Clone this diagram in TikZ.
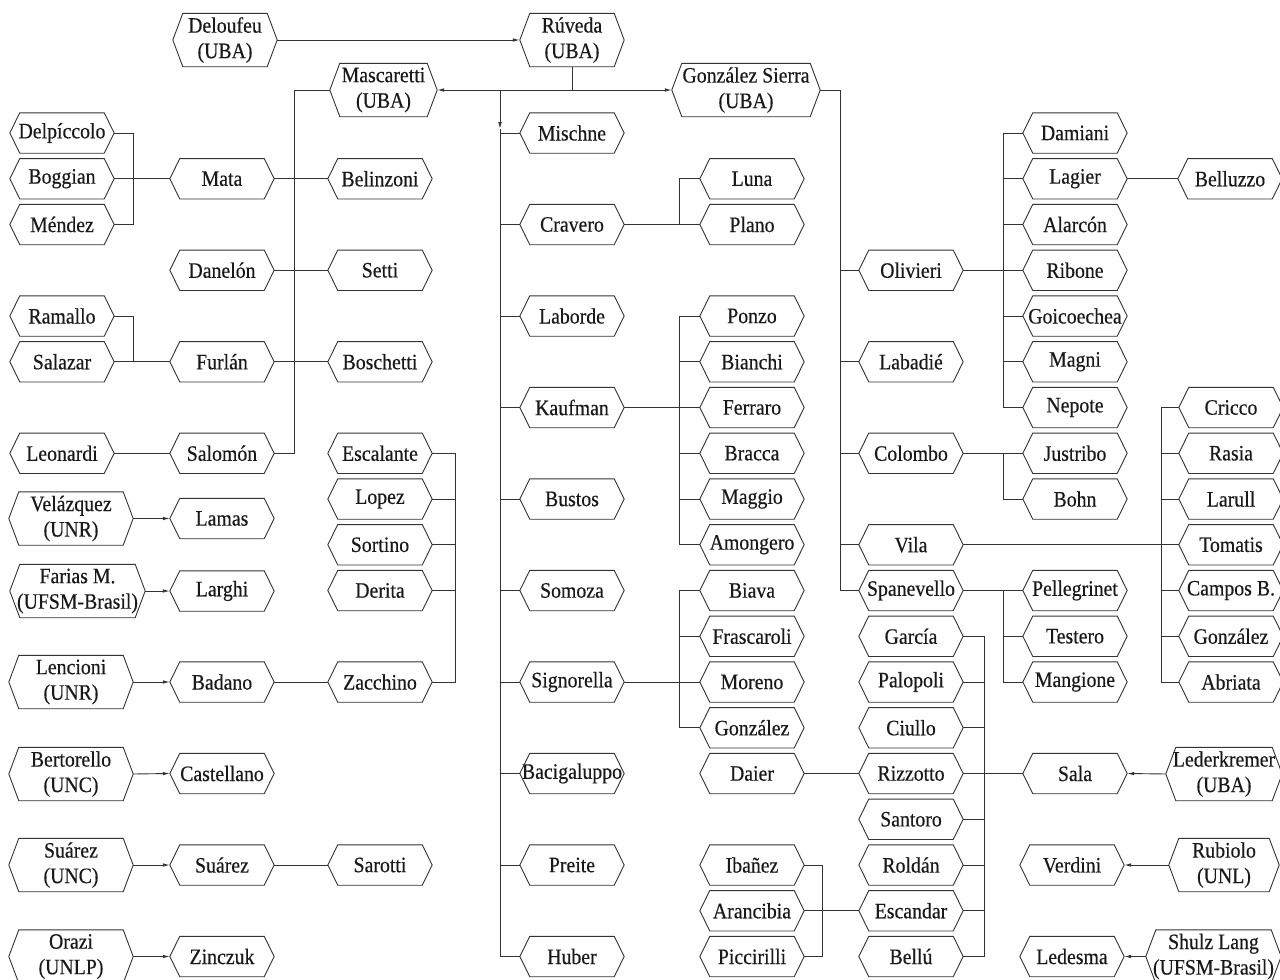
\documentclass[tikz,border=0pt]{standalone}
\usepackage{fontspec}
\setmainfont{Liberation Serif}[FakeStretch=0.9,FakeBold=0.35]
\usetikzlibrary{arrows.meta}

\tikzset{
  hexbox/.style={rectangle, inner sep=0pt, minimum height=40bp, minimum width=104bp,
    align=center, font=\fontsize{22bp}{25.5bp}\selectfont, text=black!90},
  tall/.style={minimum height=53bp},
  hexline/.style={draw=black!80, line width=0.9bp, line join=miter},
  wire/.style={draw=black!80, line width=0.9bp},
  arr/.style={wire, -{Latex[length=7bp,width=3.6bp]}},
}

% a named box with pointed left and right ends
\newcommand{\hexnode}[5][]{%
  \node[hexbox,#1] (#2) at (#3,#4) {#5};
  \draw[hexline] (#2.west) -- ([xshift=10bp]#2.north west) -- ([xshift=-10bp]#2.north east)
    -- (#2.east) -- ([xshift=-10bp]#2.south east) -- ([xshift=10bp]#2.south west) -- cycle;
}

\begin{document}
\begin{tikzpicture}[x=1bp,y=-1bp]
\fill[white] (0,0) rectangle (1280,980);
\useasboundingbox (0,0) rectangle (1280,980);

% ---------- top ----------
\hexnode[tall]{delou}{225}{40}{Deloufeu\\(UBA)}
\hexnode[tall]{ruveda}{572}{40}{Rúveda\\(UBA)}
\hexnode[tall,minimum width=107bp]{masc}{383.5}{90}{Mascaretti\\(UBA)}
\hexnode[tall,minimum width=148bp]{gsierra}{746}{90}{González Sierra\\(UBA)}

% ---------- column A ----------
\hexnode{delp}{62}{133}{Delpíccolo}
\hexnode{bogg}{62}{178.75}{Boggian}
\hexnode{mendez}{62}{224.5}{Méndez}
\hexnode{ramallo}{62}{316}{Ramallo}
\hexnode{salazar}{62}{361.75}{Salazar}
\hexnode{leonardi}{62}{453.25}{Leonardi}
\hexnode[tall,minimum width=124bp]{velaz}{71}{518.5}{Velázquez\\(UNR)}
\hexnode[tall,minimum width=135bp]{farias}{77.5}{591}{Farias M.\\(UFSM-Brasil)}
\hexnode[tall,minimum width=124bp]{lencioni}{71}{682}{Lencioni\\(UNR)}
\hexnode[tall,minimum width=124bp]{bertor}{71}{774}{Bertorello\\(UNC)}
\hexnode[tall,minimum width=124bp]{suarezU}{71}{865}{Suárez\\(UNC)}
\hexnode[tall,minimum width=124bp]{orazi}{71}{956.5}{Orazi\\(UNLP)}

% ---------- column B ----------
\hexnode{mata}{222}{178.75}{Mata}
\hexnode{danelon}{222}{270.25}{Danelón}
\hexnode{furlan}{222}{361.75}{Furlán}
\hexnode{salomon}{222}{453.25}{Salomón}
\hexnode{lamas}{222}{518.5}{Lamas}
\hexnode{larghi}{222}{591}{Larghi}
\hexnode{badano}{222}{682}{Badano}
\hexnode{castellano}{222}{773.5}{Castellano}
\hexnode{suarez}{222}{865}{Suárez}
\hexnode{zinczuk}{222}{956.5}{Zinczuk}

% ---------- column C ----------
\hexnode{belinzoni}{380}{178.75}{Belinzoni}
\hexnode{setti}{380}{270.25}{Setti}
\hexnode{boschetti}{380}{361.75}{Boschetti}
\hexnode{escalante}{380}{453.25}{Escalante}
\hexnode{lopez}{380}{499}{Lopez}
\hexnode{sortino}{380}{544.75}{Sortino}
\hexnode{derita}{380}{590.5}{Derita}
\hexnode{zacchino}{380}{682}{Zacchino}
\hexnode{sarotti}{380}{865}{Sarotti}

% ---------- column D ----------
\hexnode{mischne}{572}{133}{Mischne}
\hexnode{cravero}{572}{224.5}{Cravero}
\hexnode{laborde}{572}{316}{Laborde}
\hexnode{kaufman}{572}{407.5}{Kaufman}
\hexnode{bustos}{572}{499}{Bustos}
\hexnode{somoza}{572}{590.5}{Somoza}
\hexnode{signorella}{572}{682}{Signorella}
\hexnode{bacig}{572}{773.5}{Bacigaluppo}
\hexnode{preite}{572}{865}{Preite}
\hexnode{huber}{572}{956.5}{Huber}

% ---------- column E ----------
\hexnode{luna}{752}{178.75}{Luna}
\hexnode{plano}{752}{224.5}{Plano}
\hexnode{ponzo}{752}{316}{Ponzo}
\hexnode{bianchi}{752}{361.75}{Bianchi}
\hexnode{ferraro}{752}{407.5}{Ferraro}
\hexnode{bracca}{752}{453.25}{Bracca}
\hexnode{maggio}{752}{499}{Maggio}
\hexnode{amongero}{752}{544.75}{Amongero}
\hexnode{biava}{752}{590.5}{Biava}
\hexnode{frasc}{752}{636.25}{Frascaroli}
\hexnode{moreno}{752}{682}{Moreno}
\hexnode{gonzalezE}{752}{727.75}{González}
\hexnode{daier}{752}{773.5}{Daier}
\hexnode{ibanez}{752}{865}{Ibañez}
\hexnode{arancibia}{752}{910.75}{Arancibia}
\hexnode{piccir}{752}{956.5}{Piccirilli}

% ---------- column F ----------
\hexnode{olivieri}{911}{270.25}{Olivieri}
\hexnode{labadie}{911}{361.75}{Labadié}
\hexnode{colombo}{911}{453.25}{Colombo}
\hexnode{vila}{911}{544.75}{Vila}
\hexnode{spanev}{911}{590.5}{Spanevello}
\hexnode{garcia}{911}{636.25}{García}
\hexnode{palopoli}{911}{682}{Palopoli}
\hexnode{ciullo}{911}{727.75}{Ciullo}
\hexnode{rizzotto}{911}{773.5}{Rizzotto}
\hexnode{santoro}{911}{819.25}{Santoro}
\hexnode{roldan}{911}{865}{Roldán}
\hexnode{escandar}{911}{910.75}{Escandar}
\hexnode{bellu}{911}{956.5}{Bellú}

% ---------- column G ----------
\hexnode{damiani}{1075}{133}{Damiani}
\hexnode{lagier}{1075}{178.75}{Lagier}
\hexnode{alarcon}{1075}{224.5}{Alarcón}
\hexnode{ribone}{1075}{270.25}{Ribone}
\hexnode{goico}{1075}{316}{Goicoechea}
\hexnode{magni}{1075}{361.75}{Magni}
\hexnode{nepote}{1075}{407.5}{Nepote}
\hexnode{justribo}{1075}{453.25}{Justribo}
\hexnode{bohn}{1075}{499}{Bohn}
\hexnode{pelleg}{1075}{590.5}{Pellegrinet}
\hexnode{testero}{1075}{636.25}{Testero}
\hexnode{mangione}{1075}{682}{Mangione}
\hexnode{sala}{1075}{773.5}{Sala}
\hexnode{verdini}{1072}{865}{Verdini}
\hexnode{ledesma}{1072}{956.5}{Ledesma}

% ---------- column H ----------
\hexnode{belluzzo}{1230}{178.75}{Belluzzo}
\hexnode{cricco}{1231}{407.5}{Cricco}
\hexnode{rasia}{1231}{453.25}{Rasia}
\hexnode{larull}{1231}{499}{Larull}
\hexnode{tomatis}{1231}{544.75}{Tomatis}
\hexnode{campos}{1231}{590.5}{Campos B.}
\hexnode{gonzalezH}{1231}{636.25}{González}
\hexnode{abriata}{1231}{682}{Abriata}
\hexnode[tall,minimum width=116bp]{leder}{1224}{774}{Lederkremer\\(UBA)}
\hexnode[tall,minimum width=110bp]{rubiolo}{1224}{865}{Rubiolo\\(UNL)}
\hexnode[tall,minimum width=135bp]{shulz}{1213.5}{956.5}{Shulz Lang\\(UFSM-Brasil)}

% ---------- spine positions ----------
\coordinate (jR) at (ruveda.south |- masc.east);
\coordinate (jS) at (500,90);
\coordinate (jSa) at (500,129);
\coordinate (jM) at (294,90);
\coordinate (jA) at (133,0);
\coordinate (jE) at (455,0);
\coordinate (jK) at (679,0);
\coordinate (jI) at (822,0);
\coordinate (jG) at (840,0);
\coordinate (jO) at (1003,0);
\coordinate (jGa) at (984,0);
\coordinate (jH) at (1161,0);

% ---------- Rúveda ----------
\draw[arr] (delou.east) -- (ruveda.west);
\draw[wire] (ruveda.south) -- (jR);
\draw[arr] (jR) -- (masc.east);
\draw[arr] (jR) -- (gsierra.west);
\draw[arr] (jS) -- (jSa);
\draw[wire] (jSa) |- (huber.west);
\foreach \n in {mischne,cravero,laborde,kaufman,bustos,somoza,signorella,bacig,preite}
  \draw[wire] (\n.west) -- (\n.west -| jS);

% ---------- Mascaretti ----------
\draw[wire] (masc.west) -- (jM) |- (salomon.east);
\draw[wire] (mata.east) -- (belinzoni.west);
\draw[wire] (danelon.east) -- (setti.west);
\draw[wire] (furlan.east) -- (boschetti.west);
\draw[wire] (delp.east) -| (mendez.east -| jA) -- (mendez.east);
\draw[wire] (bogg.east) -- (mata.west);
\draw[wire] (ramallo.east) -| (salazar.east -| jA);
\draw[wire] (salazar.east) -- (furlan.west);
\draw[wire] (leonardi.east) -- (salomon.west);

% ---------- Escalante group ----------
\draw[wire] (escalante.east) -| (zacchino.east -| jE) -- (zacchino.east);
\foreach \n in {lopez,sortino,derita}
  \draw[wire] (\n.east) -- (\n.east -| jE);
\draw[wire] (badano.east) -- (zacchino.west);

% ---------- left arrows ----------
\draw[arr] (velaz.east) -- (lamas.west);
\draw[arr] (farias.east) -- (larghi.west);
\draw[arr] (lencioni.east) -- (badano.west);
\draw[arr] (bertor.east) -- (castellano.west);
\draw[arr] (suarezU.east) -- (suarez.west);
\draw[arr] (orazi.east) -- (zinczuk.west);
\draw[wire] (suarez.east) -- (sarotti.west);

% ---------- column D children ----------
\draw[wire] (luna.west) -| (plano.west -| jK);
\draw[wire] (cravero.east) -- (plano.west);
\draw[wire] (ponzo.west) -| (amongero.west -| jK) -- (amongero.west);
\foreach \n in {bianchi,bracca,maggio}
  \draw[wire] (\n.west) -- (\n.west -| jK);
\draw[wire] (kaufman.east) -- (ferraro.west);
\draw[wire] (biava.west) -| (gonzalezE.west -| jK) -- (gonzalezE.west);
\draw[wire] (frasc.west) -- (frasc.west -| jK);
\draw[wire] (signorella.east) -- (moreno.west);
\draw[wire] (daier.east) -- (rizzotto.west);
\draw[wire] (ibanez.east) -| (piccir.east -| jI) -- (piccir.east);
\draw[wire] (arancibia.east) -- (escandar.west);

% ---------- González Sierra ----------
\draw[wire] (gsierra.east) -| (spanev.west -| jG) -- (spanev.west);
\foreach \n in {olivieri,labadie,colombo,vila}
  \draw[wire] (\n.west) -- (\n.west -| jG);
\draw[wire] (damiani.west) -| (nepote.west -| jO) -- (nepote.west);
\foreach \n in {lagier,alarcon,goico,magni}
  \draw[wire] (\n.west) -- (\n.west -| jO);
\draw[wire] (olivieri.east) -- (ribone.west);
\draw[wire] (lagier.east) -- (belluzzo.west);
\draw[wire] (colombo.east) -- (justribo.west);
\draw[wire] (bohn.west) -| (justribo.west -| jO);
\draw[wire] (spanev.east) -- (pelleg.west);
\draw[wire] (mangione.west) -| (pelleg.west -| jO);
\draw[wire] (testero.west) -- (testero.west -| jO);
\draw[wire] (vila.east) -- (tomatis.west);
\draw[wire] (cricco.west) -| (abriata.west -| jH) -- (abriata.west);
\foreach \n in {rasia,larull,campos,gonzalezH}
  \draw[wire] (\n.west) -- (\n.west -| jH);

% ---------- García group ----------
\draw[wire] (garcia.east) -| (bellu.east -| jGa) -- (bellu.east);
\foreach \n in {palopoli,ciullo,santoro,roldan,escandar}
  \draw[wire] (\n.east) -- (\n.east -| jGa);
\draw[wire] (rizzotto.east) -- (sala.west);

% ---------- right arrows ----------
\draw[arr] (leder.west) -- (sala.east);
\draw[arr] (rubiolo.west) -- (verdini.east);
\draw[arr] (shulz.west) -- (ledesma.east);
\end{tikzpicture}
\end{document}
